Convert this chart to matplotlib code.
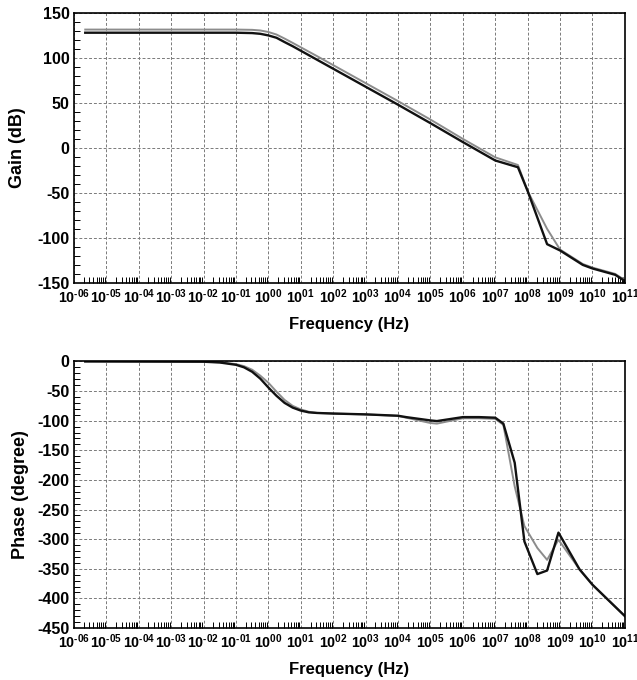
import numpy as np
import matplotlib
matplotlib.use("Agg")
import matplotlib.pyplot as plt
from matplotlib.ticker import FixedLocator, MultipleLocator, NullFormatter

plt.rcParams['font.family'] = ['Liberation Sans', 'DejaVu Sans']
plt.rcParams['font.weight'] = 'bold'
plt.rcParams['axes.unicode_minus'] = False
plt.rcParams['mathtext.fontset'] = 'custom'
plt.rcParams['mathtext.rm'] = 'Liberation Sans:bold'
plt.rcParams['mathtext.it'] = 'Liberation Sans:bold'
plt.rcParams['mathtext.bf'] = 'Liberation Sans:bold'

# frequency points, log10(Hz)
logf = [-5.65, -2, -1, -0.5, -0.25, 0, 0.25, 0.5, 0.75, 1, 1.5, 2, 3, 4, 5, 6, 7, 7.7, 8, 8.6, 9, 9.7, 10, 10.7, 11]
gain_black = [128, 128, 128, 127.6, 126.8, 125, 122.4, 117.6, 113, 108, 98, 88, 68, 48, 27.5, 6.5, -14, -21.5, -48, -107, -114, -130, -134, -141, -148]
gain_gray = [131.5, 131.5, 131.5, 131.2, 130.5, 128.8, 126, 121.5, 116.7, 111.8, 102, 92, 72, 52, 31.5, 10, -10.5, -19, -48, -90, -113, -129, -133, -140, -147]

logf_ph = [-5.65, -2, -1.5, -1, -0.75, -0.5, -0.25, 0, 0.25, 0.5, 0.75, 1, 1.25, 1.5, 2, 3, 4, 4.25, 5, 5.2, 6, 6.5, 7, 7.25, 7.6, 7.9, 8.3, 8.6, 8.95, 9.6, 10, 11]
phase_black = [0, -0.5, -1.8, -5.7, -10, -17.5, -29, -44, -58, -70, -78, -83, -86, -87, -88, -89.4, -91.7, -94, -99.6, -100.7, -94, -94, -95, -105, -171, -304, -359, -353, -289, -351, -377, -430]
phase_gray = [0, -0.5, -1.5, -4.5, -8, -14, -24, -36, -51, -65, -75, -81, -85, -87, -88, -89.5, -92, -95, -104, -105, -96, -96, -97, -107, -211, -278, -315, -335, -301, -351, -377, -430]

xticks_exp = list(range(-6, 12))


def fmt_exp(e):
    s = '%03d' % e if e < 0 else '%02d' % e
    return r'$10^{\text{%s}}$' % s


def style_axes(ax, ymin, ymax, ystep):
    ax.set_xscale('log')
    ax.set_xlim(1e-6, 1e11)
    ax.set_ylim(ymin, ymax)
    ax.xaxis.set_major_locator(FixedLocator([10.0 ** e for e in xticks_exp]))
    ax.set_xticklabels([fmt_exp(e) for e in xticks_exp])
    minors = [m * 10.0 ** e for e in xticks_exp[:-1] for m in range(2, 10)]
    ax.xaxis.set_minor_locator(FixedLocator(minors))
    ax.xaxis.set_minor_formatter(NullFormatter())
    ax.yaxis.set_major_locator(MultipleLocator(ystep))
    ax.yaxis.set_minor_locator(MultipleLocator(10))
    ax.grid(True, which='major', linestyle=(0, (3, 2)), color='#7a7a7a', linewidth=0.7)
    ax.tick_params(which='major', length=0, pad=2)
    ax.tick_params(axis='x', which='major', labelsize=10.3, pad=3)
    ax.tick_params(axis='y', which='major', labelsize=11.5, pad=3)
    ax.tick_params(which='minor', direction='in', length=4, width=0.7, top=False, right=False)
    for sp in ax.spines.values():
        sp.set_linewidth(1.2)
    for lab in ax.get_yticklabels():
        lab.set_fontweight('bold')


fig = plt.figure(figsize=(6.37, 6.8), dpi=100)
ax1 = fig.add_axes([0.116, 0.584, 0.865, 0.397])
ax2 = fig.add_axes([0.116, 0.0765, 0.865, 0.392])

fx = [10.0 ** v for v in logf]
ax1.plot(fx, gain_gray, color='#8c8c8c', lw=1.4)
ax1.plot(fx, gain_black, color='#111111', lw=1.7)
style_axes(ax1, -150, 150, 50)
ax1.set_ylabel('Gain (dB)', fontsize=13, fontweight='bold', labelpad=8)
ax1.set_xlabel('Frequency (Hz)', fontsize=12, fontweight='bold', labelpad=8)

px = [10.0 ** v for v in logf_ph]
ax2.plot(px, phase_gray, color='#8c8c8c', lw=1.4)
ax2.plot(px, phase_black, color='#111111', lw=1.7)
style_axes(ax2, -450, 0, 50)
ax2.set_ylabel('Phase (degree)', fontsize=13, fontweight='bold', labelpad=6)
ax2.set_xlabel('Frequency (Hz)', fontsize=12, fontweight='bold', labelpad=8)

fig.savefig('out.png', dpi=100)
